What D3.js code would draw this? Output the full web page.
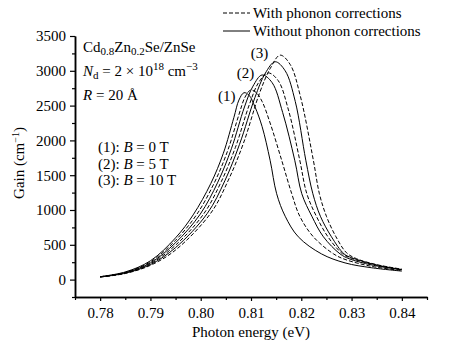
<!DOCTYPE html>
<html>
<head>
<meta charset="utf-8">
<script src="https://cdn.jsdelivr.net/npm/d3@7"></script>
<style>
  body { margin: 0; background: #fff; }
  svg text { font-family: "Liberation Serif", "Times New Roman", serif; fill: #000; }
</style>
</head>
<body>
<svg id="chart"></svg>
<script>
// Gain curves: [photon energy (eV), gain (cm^-1)]
const solidB0 = [[0.780,42],[0.785,110],[0.790,270],[0.795,600],[0.7985,930],[0.802,1380],[0.8045,1815],[0.8066,2330],[0.8076,2580],[0.8086,2685],[0.8096,2650],[0.8108,2480],[0.8122,2200],[0.8138,1715],[0.8151,1234],[0.8168,910],[0.8194,615],[0.824,370],[0.8287,240],[0.834,170],[0.840,122]];
const dashedB0 = [[0.780,41],[0.785,105],[0.790,255],[0.795,565],[0.7992,935],[0.8027,1390],[0.8053,1840],[0.8076,2370],[0.8088,2620],[0.8099,2722],[0.8110,2690],[0.8122,2560],[0.8138,2250],[0.8161,1715],[0.8181,1234],[0.8197,910],[0.8224,615],[0.8264,370],[0.8287,290],[0.834,190],[0.840,130]];
const solidB5 = [[0.780,40],[0.785,100],[0.790,240],[0.795,530],[0.7999,940],[0.8034,1400],[0.8061,1880],[0.8087,2480],[0.8104,2780],[0.8122,2940],[0.8142,2830],[0.8163,2400],[0.8187,1715],[0.8201,1234],[0.8221,910],[0.8244,615],[0.8277,370],[0.8295,300],[0.834,210],[0.840,140]];
const dashedB5 = [[0.780,39],[0.785,96],[0.790,228],[0.795,495],[0.8006,945],[0.8041,1410],[0.8069,1900],[0.8097,2520],[0.8115,2830],[0.8134,2970],[0.8154,2860],[0.8174,2450],[0.8197,1715],[0.8211,1234],[0.823,910],[0.8253,615],[0.8282,370],[0.830,305],[0.835,205],[0.840,140]];
const solidB10 = [[0.780,38],[0.785,92],[0.790,216],[0.795,460],[0.8013,950],[0.8048,1420],[0.8077,1940],[0.8108,2620],[0.8128,2960],[0.8148,3130],[0.8168,3000],[0.8188,2560],[0.8209,1715],[0.8223,1234],[0.8238,910],[0.826,615],[0.8285,370],[0.830,315],[0.835,210],[0.840,145]];
const dashedB10 = [[0.780,37],[0.785,88],[0.790,205],[0.795,425],[0.8020,955],[0.8055,1430],[0.8085,1960],[0.8117,2680],[0.8138,3030],[0.8158,3225],[0.8178,3090],[0.8198,2640],[0.8224,1715],[0.8236,1234],[0.825,910],[0.8269,615],[0.829,385],[0.831,300],[0.835,215],[0.840,150]];

const series = [
  {name: 'solid (1)', values: solidB0, dashed: false},
  {name: 'dashed (1)', values: dashedB0, dashed: true},
  {name: 'solid (2)', values: solidB5, dashed: false},
  {name: 'dashed (2)', values: dashedB5, dashed: true},
  {name: 'solid (3)', values: solidB10, dashed: false},
  {name: 'dashed (3)', values: dashedB10, dashed: true}
];

const xTicks = [0.78, 0.79, 0.80, 0.81, 0.82, 0.83, 0.84];
const xMinorTicks = [0.775, 0.785, 0.795, 0.805, 0.815, 0.825, 0.835, 0.845];
const yTicks = [0, 500, 1000, 1500, 2000, 2500, 3000, 3500];
const yMinorTicks = [-250, 250, 750, 1250, 1750, 2250, 2750, 3250];

const legendLabels = ['With phonon corrections', 'Without phonon corrections'];
const fieldLabels = [['(1): ', '0'], ['(2): ', '5'], ['(3): ', '10']];
const curveTags = [
  {text: '(1)', e: 0.8052, g: 2566},
  {text: '(2)', e: 0.8089, g: 2897},
  {text: '(3)', e: 0.8117, g: 3184}
];

const width = 461, height = 351;
const svg = d3.select('#chart').attr('width', width).attr('height', height);

const xScale = d3.scaleLinear().domain([0.775, 0.845]).range([75, 427]);
const yScale = d3.scaleLinear().domain([-250, 3500]).range([297, 36]);

// Axes
const xAxis = d3.axisBottom(xScale).tickValues(xTicks).tickFormat(d3.format('.2f'))
    .tickSize(4).tickSizeOuter(0).tickPadding(6);
const xMinor = d3.axisBottom(xScale).tickValues(xMinorTicks).tickFormat('')
    .tickSize(3).tickSizeOuter(0);
const yAxis = d3.axisLeft(yScale).tickValues(yTicks).tickFormat(d3.format('d'))
    .tickSize(5).tickSizeOuter(0).tickPadding(4);
const yMinor = d3.axisLeft(yScale).tickValues(yMinorTicks).tickFormat('')
    .tickSize(3).tickSizeOuter(0);

function styleAxis(g) {
  g.attr('font-family', null).attr('font-size', null);
  g.select('.domain').attr('stroke', '#000').attr('stroke-width', 1.5);
  g.selectAll('.tick line').attr('stroke', '#000').attr('stroke-width', 1.2);
  g.selectAll('.tick text').style('font-size', '15px').attr('fill', '#000');
}

svg.append('g').attr('transform', 'translate(0,297)').call(xMinor).call(styleAxis);
svg.append('g').attr('transform', 'translate(0,297)').call(xAxis).call(styleAxis);
svg.append('g').attr('transform', 'translate(75,0)').call(yMinor).call(styleAxis);
svg.append('g').attr('transform', 'translate(75,0)').call(yAxis).call(styleAxis);

// Axis titles
svg.append('text')
    .attr('x', 251).attr('y', 337)
    .attr('text-anchor', 'middle')
    .style('font-size', '15px')
    .text('Photon energy (eV)');

const yTitle = svg.append('text')
    .attr('transform', 'translate(24,163) rotate(-90)')
    .attr('text-anchor', 'middle')
    .style('font-size', '15px');
yTitle.append('tspan').text('Gain (cm');
yTitle.append('tspan').attr('dy', -5).style('font-size', '10px').text('−1');
yTitle.append('tspan').attr('dy', 5).text(')');

// Curves
const line = d3.line()
    .x(d => xScale(d[0]))
    .y(d => yScale(d[1]))
    .curve(d3.curveCatmullRom.alpha(0.5));

svg.append('g').selectAll('path')
    .data(series)
  .join('path')
    .attr('fill', 'none')
    .attr('stroke', '#000')
    .attr('stroke-width', 1)
    .attr('stroke-dasharray', d => d.dashed ? '4,2' : null)
    .attr('d', d => line(d.values));

// Curve tags (1), (2), (3)
svg.append('g').selectAll('text')
    .data(curveTags)
  .join('text')
    .attr('x', d => xScale(d.e))
    .attr('y', d => yScale(d.g))
    .attr('text-anchor', 'middle')
    .style('font-size', '15px')
    .text(d => d.text);

// Legend
const legend = svg.append('g');
legend.append('line').attr('x1', 223).attr('x2', 250).attr('y1', 13).attr('y2', 13)
    .attr('stroke', '#000').attr('stroke-dasharray', '4,2');
legend.append('line').attr('x1', 223).attr('x2', 250).attr('y1', 31).attr('y2', 31)
    .attr('stroke', '#000');
legend.selectAll('text')
    .data(legendLabels)
  .join('text')
    .attr('x', 253)
    .attr('y', (d, i) => 18 + i * 18)
    .style('font-size', '15px')
    .text(d => d);

// Sample description
const info = svg.append('g').style('font-size', '15px');
const t1 = info.append('text').attr('x', 83).attr('y', 52);
t1.append('tspan').text('Cd');
t1.append('tspan').attr('dy', 3).style('font-size', '11px').text('0.8');
t1.append('tspan').attr('dy', -3).text('Zn');
t1.append('tspan').attr('dy', 3).style('font-size', '11px').text('0.2');
t1.append('tspan').attr('dy', -3).text('Se/ZnSe');

const t2 = info.append('text').attr('x', 83).attr('y', 76);
t2.append('tspan').style('font-style', 'italic').text('N');
t2.append('tspan').attr('dy', 3).style('font-size', '11px').text('d');
t2.append('tspan').attr('dy', -3).text(' = 2 × 10');
t2.append('tspan').attr('dy', -6).style('font-size', '11px').text('18');
t2.append('tspan').attr('dy', 6).text(' cm');
t2.append('tspan').attr('dy', -6).style('font-size', '11px').text('−3');

const t3 = info.append('text').attr('x', 83).attr('y', 100);
t3.append('tspan').style('font-style', 'italic').text('R');
t3.append('tspan').text(' = 20 Å');

info.selectAll('.field')
    .data(fieldLabels)
  .join('text')
    .attr('class', 'field')
    .attr('x', 98)
    .attr('y', (d, i) => 152 + i * 16.5)
    .each(function(d) {
      const t = d3.select(this);
      t.append('tspan').text(d[0]);
      t.append('tspan').style('font-style', 'italic').text('B');
      t.append('tspan').text(' = ' + d[1] + ' T');
    });
</script>
</body>
</html>
